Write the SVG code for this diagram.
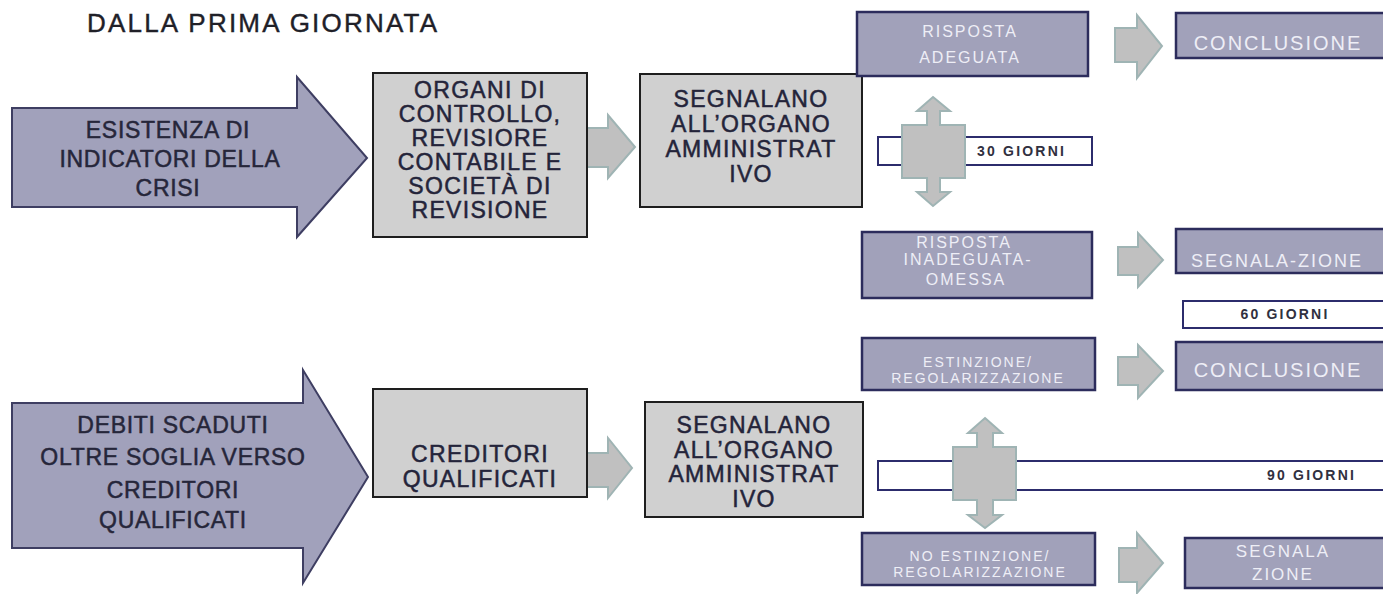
<svg xmlns="http://www.w3.org/2000/svg" width="1383" height="594" viewBox="0 0 1383 594">
<style>
.big{fill:#a1a1bb;stroke:#3e3e62;stroke-width:2}
.gbox{fill:#d0d0d0;stroke:#1e1e1e;stroke-width:2}
.pbox{fill:#a1a1ba;stroke:#2c2c5c;stroke-width:2.5}
.wbox{fill:#ffffff;stroke:#2c2c6c;stroke-width:2}
.arr{fill:#c0c0c0;stroke:#9fb4b4;stroke-width:2}
text{font-family:"Liberation Sans",Arial,sans-serif}
.dk{fill:#26263a;stroke:#26263a;stroke-width:0.5;font-size:23px;letter-spacing:0.7px;text-anchor:middle}
.bx{fill:#24243a;stroke:#24243a;stroke-width:0.5;font-size:23px;letter-spacing:1.3px;text-anchor:middle}
.wt{fill:#eeeef6;text-anchor:middle;letter-spacing:2px}
.gg{fill:#303040;font-size:14px;font-weight:bold;letter-spacing:2.2px}
</style>
<text x="87" y="32" style="font-size:26px;letter-spacing:2.2px;fill:#202028;stroke:#202028;stroke-width:0.4">DALLA PRIMA GIORNATA</text>

<g id="connectors">
<polygon class="arr" points="587,128 608,128 608,115 635,147 608,178 608,167 587,167"/>
<polygon class="arr" points="587,453 608,453 608,438 632,468 608,498 608,487 587,487"/>
<polygon class="arr" points="1115,28 1137,28 1137,15 1162,46 1137,78 1137,62 1115,62"/>
<polygon class="arr" points="1118,247 1138,247 1138,233 1163,260 1138,287 1138,275 1118,275"/>
<polygon class="arr" points="1118,357 1138,357 1138,345 1163,371 1138,398 1138,385 1118,385"/>
<polygon class="arr" points="1119,548 1137,548 1137,533 1163,563 1137,593 1137,582 1119,582"/>
</g>

<g id="n-esistenza">
<polygon class="big" points="12,108 297,108 297,77 367,158 297,237 297,207 12,207"/>
<text class="dk" x="168" y="138">ESISTENZA DI</text>
<text class="dk" x="170" y="167">INDICATORI DELLA</text>
<text class="dk" x="168" y="196">CRISI</text>
</g>

<g id="n-debiti">
<polygon class="big" points="12,403 303,403 303,370 368,477 303,583 303,548 12,548"/>
<text class="dk" x="173" y="433">DEBITI SCADUTI</text>
<text class="dk" x="173" y="465">OLTRE SOGLIA VERSO</text>
<text class="dk" x="173" y="498">CREDITORI</text>
<text class="dk" x="173" y="528">QUALIFICATI</text>
</g>

<g id="n-organi">
<rect class="gbox" x="373" y="73" width="214" height="164"/>
<text class="bx" x="480" y="98">ORGANI DI</text>
<text class="bx" x="480" y="122">CONTROLLO,</text>
<text class="bx" x="480" y="146">REVISIORE</text>
<text class="bx" x="480" y="170">CONTABILE E</text>
<text class="bx" x="480" y="194">SOCIETÀ DI</text>
<text class="bx" x="480" y="218">REVISIONE</text>
</g>

<g id="n-creditori">
<rect class="gbox" x="373" y="389" width="214" height="108"/>
<text class="bx" x="480" y="462">CREDITORI</text>
<text class="bx" x="480" y="487">QUALIFICATI</text>
</g>

<g id="n-segnalano1">
<rect class="gbox" x="640" y="74" width="222" height="133"/>
<text class="bx" x="751" y="107">SEGNALANO</text>
<text class="bx" x="751" y="132">ALL’ORGANO</text>
<text class="bx" x="751" y="157">AMMINISTRAT</text>
<text class="bx" x="751" y="182">IVO</text>
</g>

<g id="n-segnalano2">
<rect class="gbox" x="645" y="402" width="218" height="115"/>
<text class="bx" x="754" y="433">SEGNALANO</text>
<text class="bx" x="754" y="458">ALL’ORGANO</text>
<text class="bx" x="754" y="482">AMMINISTRAT</text>
<text class="bx" x="754" y="507">IVO</text>
</g>

<g id="n-risposta-adeguata">
<rect class="pbox" x="857" y="12" width="231" height="64"/>
<text class="wt" x="970" y="37" style="font-size:16px">RISPOSTA</text>
<text class="wt" x="970" y="63" style="font-size:16px">ADEGUATA</text>
</g>

<g id="n-conclusione1">
<rect class="pbox" x="1176" y="13" width="220" height="45"/>
<text class="wt" x="1278" y="50" style="font-size:20px">CONCLUSIONE</text>
</g>

<g id="n-30giorni">
<rect class="wbox" x="878" y="137" width="214" height="28"/>
<text class="gg" x="977" y="156">30 GIORNI</text>
</g>

<g id="n-freccia30">
<polygon class="arr" points="933,97 950,111 940,111 940,125 965,125 965,178 940,178 940,192 950,192 933,206 917,192 927,192 927,178 902,178 902,125 927,125 927,111 917,111"/>
</g>

<g id="n-risposta-inadeguata">
<rect class="pbox" x="862" y="232" width="230" height="66"/>
<text class="wt" x="964" y="248" style="font-size:16px">RISPOSTA</text>
<text class="wt" x="968" y="265" style="font-size:16px">INADEGUATA-</text>
<text class="wt" x="966" y="285" style="font-size:16px">OMESSA</text>
</g>

<g id="n-segnalazione1">
<rect class="pbox" x="1176" y="229" width="220" height="44"/>
<text class="wt" x="1277" y="267" style="font-size:18px">SEGNALA-ZIONE</text>
</g>

<g id="n-60giorni">
<rect class="wbox" x="1183" y="301" width="210" height="27"/>
<text class="gg" x="1285" y="319" style="text-anchor:middle">60 GIORNI</text>
</g>

<g id="n-estinzione">
<rect class="pbox" x="862" y="338" width="233" height="52"/>
<text class="wt" x="978" y="367" style="font-size:14px">ESTINZIONE/</text>
<text class="wt" x="978" y="383" style="font-size:14px">REGOLARIZZAZIONE</text>
</g>

<g id="n-conclusione2">
<rect class="pbox" x="1176" y="342" width="220" height="48"/>
<text class="wt" x="1278" y="377" style="font-size:20px">CONCLUSIONE</text>
</g>

<g id="n-90giorni">
<rect class="wbox" x="878" y="461" width="520" height="29"/>
<text class="gg" x="1267" y="480">90 GIORNI</text>
</g>

<g id="n-freccia90">
<polygon class="arr" points="985,418 1002,433 993,433 993,447 1016,447 1016,500 993,500 993,515 1002,515 985,528 968,515 977,515 977,500 953,500 953,447 977,447 977,433 968,433"/>
</g>

<g id="n-no-estinzione">
<rect class="pbox" x="862" y="533" width="233" height="52"/>
<text class="wt" x="980" y="561" style="font-size:14px">NO ESTINZIONE/</text>
<text class="wt" x="980" y="577" style="font-size:14px">REGOLARIZZAZIONE</text>
</g>

<g id="n-segnalazione2">
<rect class="pbox" x="1185" y="538" width="210" height="50"/>
<text class="wt" x="1283" y="557" style="font-size:17px">SEGNALA</text>
<text class="wt" x="1283" y="580" style="font-size:17px">ZIONE</text>
</g>
</svg>
